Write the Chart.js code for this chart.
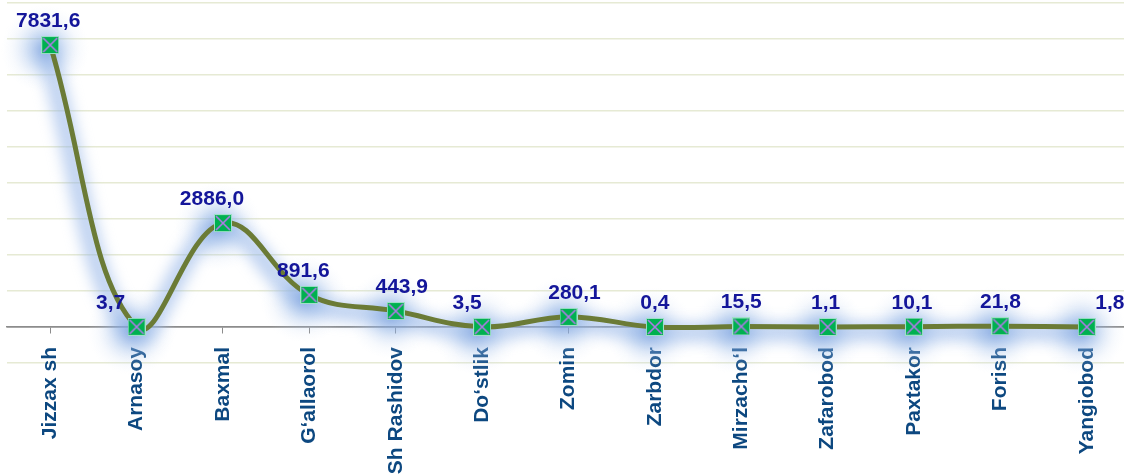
<!DOCTYPE html>
<html>
<head>
<meta charset="utf-8">
<script src="https://cdn.jsdelivr.net/npm/chart.js@4"></script>
<style>
    html, body { margin: 0; padding: 0; background: #ffffff; overflow: hidden; }
    /* the plot runs a few px past the right edge in the original */
    #wrap { width: 1130px; height: 475px; }
</style>
</head>
<body>
<div id="wrap"><canvas id="districtChart"></canvas></div>
<script>
// districts (x categories) and their values
const districts = [
    "Jizzax sh", "Arnasoy", "Baxmal", "G\u2018allaorol", "Sh Rashidov", "Do\u2018stlik",
    "Zomin", "Zarbdor", "Mirzacho\u2018l", "Zafarobod", "Paxtakor", "Forish", "Yangiobod"
];
const values = [7831.6, 3.7, 2886.0, 891.6, 443.9, 3.5, 280.1, 0.4, 15.5, 1.1, 10.1, 21.8, 1.8];

// y axis range (ticks hidden, only gridlines)
const yMin = -1000;
const yMax = 9000;
const yStep = 1000;

// small horizontal nudges for the value labels, like the original
const labelNudge = [-2, -26, -11, -6, 6, -15, 6, 0, 0, -2, -2, 0, 23];

// green square marker with purple cross
const marker = document.createElement("canvas");
marker.width = 18;
marker.height = 18;
(function () {
    const c = marker.getContext("2d");
    c.fillStyle = "#00b050";
    c.fillRect(0, 0, 18, 18);
    c.strokeStyle = "#9fe0c8";
    c.lineWidth = 1;
    c.strokeRect(0.5, 0.5, 17, 17);
    c.strokeStyle = "#b07ae8";
    c.lineWidth = 1.6;
    c.beginPath();
    c.moveTo(2, 2); c.lineTo(16, 16);
    c.moveTo(16, 2); c.lineTo(2, 16);
    c.stroke();
})();

// soft blue glow behind the series and its points
const glowPlugin = {
    id: "glow",
    beforeDatasetsDraw(chart) {
        const ctx = chart.ctx;
        const meta = chart.getDatasetMeta(0);
        const pts = meta.data;

        // halo along the curve, traced through the line's own control points
        ctx.save();
        ctx.filter = "blur(7px)";
        ctx.strokeStyle = "rgba(140,175,230,0.55)";
        ctx.lineWidth = 20;
        ctx.lineJoin = "round";
        ctx.lineCap = "round";
        ctx.beginPath();
        ctx.moveTo(pts[0].x - 4, pts[0].y + 5);
        for (let i = 1; i < pts.length; i++) {
            const a = pts[i - 1], b = pts[i];
            ctx.bezierCurveTo(a.cp2x - 4, a.cp2y + 5, b.cp1x - 4, b.cp1y + 5, b.x - 4, b.y + 5);
        }
        ctx.stroke();
        ctx.restore();

        ctx.save();
        pts.forEach(pt => {
            const gx = pt.x - 5, gy = pt.y + 4;
            const r = 44;
            const g = ctx.createRadialGradient(gx, gy, 0, gx, gy, r);
            g.addColorStop(0, "rgba(115,155,220,0.7)");
            g.addColorStop(0.4, "rgba(145,180,230,0.4)");
            g.addColorStop(0.75, "rgba(190,210,240,0.12)");
            g.addColorStop(1, "rgba(220,232,248,0)");
            ctx.fillStyle = g;
            ctx.fillRect(gx - r, gy - r, r * 2, r * 2);
        });
        ctx.restore();
    }
};

// value labels above points
const valueLabels = {
    id: "valueLabels",
    afterDatasetsDraw(chart) {
        const ctx = chart.ctx;
        const meta = chart.getDatasetMeta(0);
        ctx.save();
        ctx.font = "bold 21px 'Liberation Sans', Arial, sans-serif";
        ctx.fillStyle = "#14169a";
        ctx.textAlign = "center";
        ctx.textBaseline = "alphabetic";
        meta.data.forEach((pt, i) => {
            const txt = values[i].toFixed(1).replace(".", ",");
            ctx.fillText(txt, pt.x + labelNudge[i], pt.y - 18);
        });
        ctx.restore();
    }
};

const ctx = document.getElementById("districtChart");

new Chart(ctx, {
    type: "line",
    data: {
        labels: districts,
        datasets: [{
            data: values,
            borderColor: "#6b7b36",
            borderWidth: 5,
            tension: 0.4,
            fill: false,
            pointStyle: marker,
            pointRadius: 9,
            pointHoverRadius: 9
        }]
    },
    options: {
        responsive: true,
        maintainAspectRatio: false,
        animation: false,
        layout: {
            autoPadding: false,
            padding: { left: 7, top: 3, right: 0, bottom: 112 }
        },
        plugins: {
            legend: { display: false },
            tooltip: { enabled: false }
        },
        scales: {
            x: {
                position: { y: 0 },
                offset: true,
                grid: {
                    drawOnChartArea: false,
                    drawTicks: true,
                    tickLength: 6,
                    tickColor: "#8c8c8c",
                    offset: false
                },
                border: { color: "#8c8c8c", width: 1.5 },
                ticks: {
                    autoSkip: false,
                    maxRotation: 90,
                    minRotation: 90,
                    padding: 14,
                    color: "#0d4880",
                    font: { family: "'Liberation Sans', Arial, sans-serif", size: 21, weight: "bold" }
                }
            },
            y: {
                min: yMin,
                max: yMax,
                ticks: { stepSize: yStep, display: false },
                border: { display: false },
                grid: {
                    drawTicks: false,
                    lineWidth: 1.5,
                    color: c => c.tick && c.tick.value === 0 ? "#8c8c8c" : "#e6ead4"
                }
            }
        }
    },
    plugins: [glowPlugin, valueLabels]
});
</script>
</body>
</html>
